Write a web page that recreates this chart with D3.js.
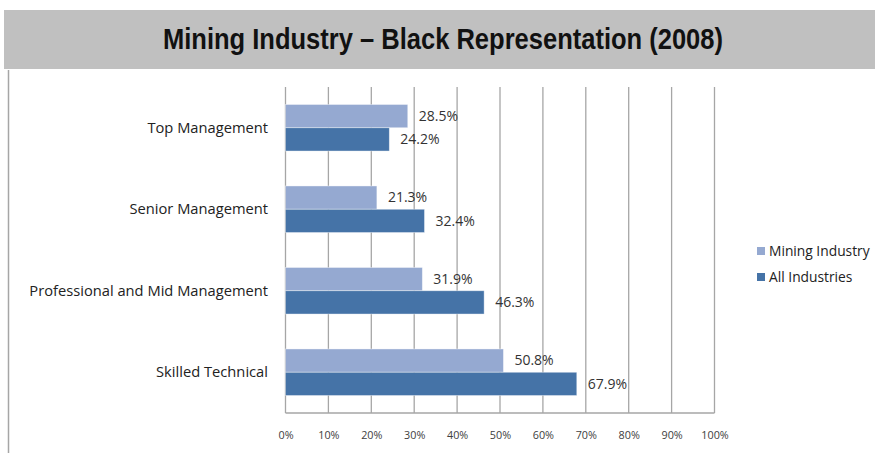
<!DOCTYPE html>
<html>
<head>
<meta charset="utf-8">
<script src="https://cdn.jsdelivr.net/npm/d3@7"></script>
<style>
  body { margin: 0; background: #fff; }
  svg text { font-family: "Open Sans", "DejaVu Sans", sans-serif; }
</style>
</head>
<body>
<div id="chart"></div>
<script>
var categories = ["Top Management", "Senior Management", "Professional and Mid Management", "Skilled Technical"];
var seriesNames = ["Mining Industry", "All Industries"];
var miningValues = [28.5, 21.3, 31.9, 50.8];
var allValues = [24.2, 32.4, 46.3, 67.9];
var tickValues = [0, 10, 20, 30, 40, 50, 60, 70, 80, 90, 100];
var colors = ["#95a9d1", "#4573a7"];

var svgWidth = 875, svgHeight = 453;

var svg = d3.select("#chart")
  .append("svg")
  .attr("width", svgWidth)
  .attr("height", svgHeight);

// title band
svg.append("rect")
  .attr("x", 4).attr("y", 10)
  .attr("width", svgWidth - 4).attr("height", 59)
  .attr("fill", "#c0c0c0");

svg.append("text")
  .attr("x", 443).attr("y", 49)
  .attr("text-anchor", "middle")
  .attr("textLength", 560)
  .attr("lengthAdjust", "spacingAndGlyphs")
  .style("font-family", "'Liberation Sans', 'Roboto', sans-serif")
  .style("font-weight", "bold")
  .style("font-size", "29px")
  .attr("fill", "#111")
  .text("Mining Industry \u2013 Black Representation (2008)");

// left frame line
svg.append("line")
  .attr("x1", 8.5).attr("x2", 8.5)
  .attr("y1", 70).attr("y2", svgHeight)
  .attr("stroke", "#a6a6a6").attr("stroke-width", 1.5);

var plotLeft = 285.5, plotRight = 714.5, plotTop = 87, plotBottom = 413;

var x = d3.scaleLinear().domain([0, 100]).range([plotLeft, plotRight]);
var y = d3.scaleBand().domain(categories).range([plotTop, plotBottom]).paddingInner(0.4286).paddingOuter(0.2143);
var ySub = d3.scaleBand().domain(seriesNames).range([0, y.bandwidth()]);

// gridlines
svg.append("g").selectAll("line")
  .data(tickValues)
  .enter()
  .append("line")
  .attr("x1", d => x(d)).attr("x2", d => x(d))
  .attr("y1", plotTop).attr("y2", plotBottom)
  .attr("stroke", "#a6a6a6").attr("stroke-width", 1.3);

svg.append("line")
  .attr("x1", plotLeft).attr("x2", plotRight)
  .attr("y1", plotBottom).attr("y2", plotBottom)
  .attr("stroke", "#a6a6a6").attr("stroke-width", 1.3);

// x axis labels
var xAxis = d3.axisBottom(x)
  .tickValues(tickValues)
  .tickFormat(d => d + "%")
  .tickSize(0)
  .tickPadding(0);

var xg = svg.append("g")
  .attr("transform", `translate(0, ${plotBottom + 18})`)
  .call(xAxis);
xg.select(".domain").remove();
xg.selectAll("text")
  .style("font-family", "'Open Sans', sans-serif")
  .style("font-size", "10.8px")
  .attr("fill", "#404040");

// bars
var rows = categories.map((c, i) => ({ cat: c, vals: [miningValues[i], allValues[i]] }));

var groups = svg.append("g").selectAll("g")
  .data(rows)
  .enter()
  .append("g")
  .attr("transform", d => `translate(0, ${y(d.cat)})`);

groups.selectAll("rect")
  .data(d => d.vals.map((v, j) => ({ name: seriesNames[j], v: v, j: j })))
  .enter()
  .append("rect")
  .attr("x", x(0))
  .attr("y", d => ySub(d.name))
  .attr("width", d => x(d.v) - x(0))
  .attr("height", ySub.bandwidth())
  .attr("fill", d => colors[d.j])
  .attr("stroke", "#ffffff")
  .attr("stroke-opacity", 0.5)
  .attr("stroke-width", 0.8);

groups.selectAll("text.val")
  .data(d => d.vals.map((v, j) => ({ name: seriesNames[j], v: v })))
  .enter()
  .append("text")
  .attr("class", "val")
  .attr("x", d => x(d.v) + 11)
  .attr("y", d => ySub(d.name) + ySub.bandwidth() / 2)
  .attr("dy", "0.35em")
  .style("font-size", "14px")
  .attr("fill", "#333")
  .text(d => d.v.toFixed(1) + "%");

// category labels
svg.append("g").selectAll("text")
  .data(categories)
  .enter()
  .append("text")
  .attr("x", 268)
  .attr("y", d => y(d) + y.bandwidth() / 2)
  .attr("dy", "0.35em")
  .attr("text-anchor", "end")
  .style("font-size", "14.7px")
  .attr("fill", "#222")
  .text(d => d);

// legend
var legend = svg.append("g").selectAll("g")
  .data(seriesNames)
  .enter()
  .append("g")
  .attr("transform", (d, i) => `translate(757, ${251 + i * 26})`);

legend.append("rect")
  .attr("x", 0).attr("y", -4)
  .attr("width", 8).attr("height", 8)
  .attr("fill", (d, i) => colors[i]);

legend.append("text")
  .attr("x", 12).attr("y", 0)
  .attr("dy", "0.35em")
  .style("font-size", "13.8px")
  .attr("fill", "#222")
  .text(d => d);
</script>
</body>
</html>
